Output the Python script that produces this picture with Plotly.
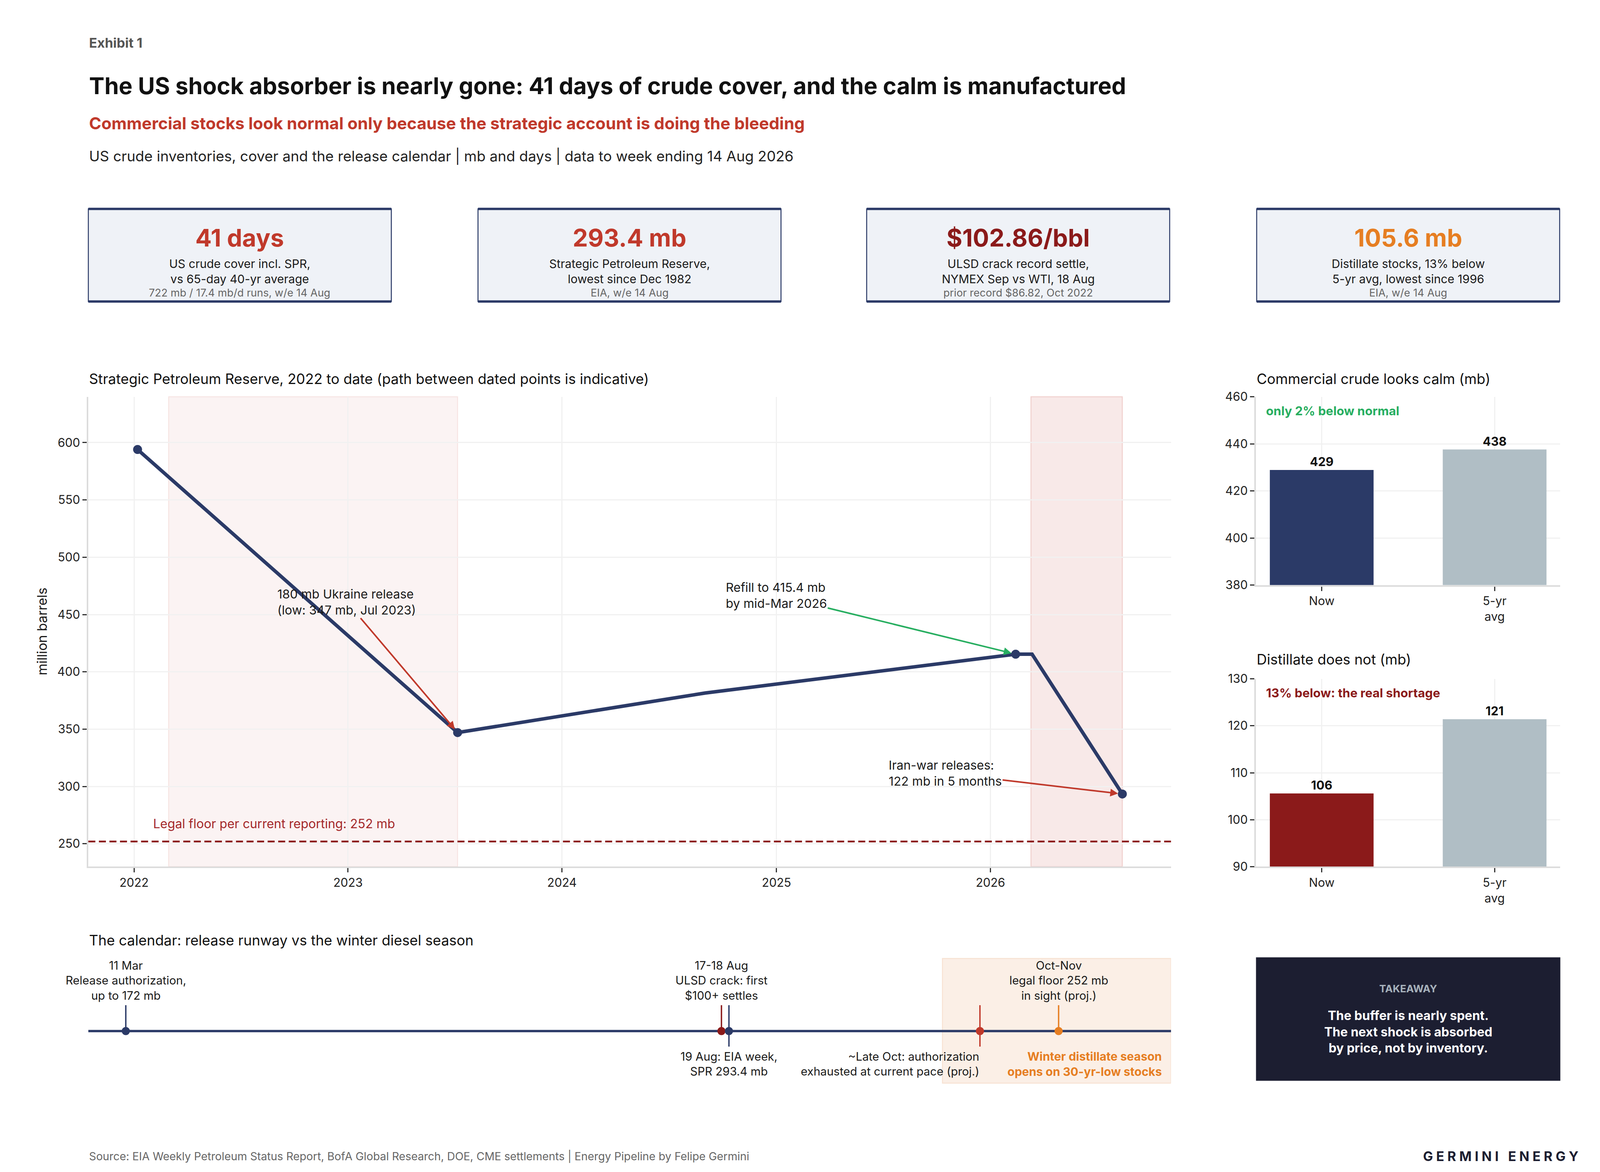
import plotly.graph_objects as go

# ------------------------------------------------------------------ data
spr_dates = ["2022-01-07", "2023-07-07", "2024-09-01", "2026-02-13", "2026-03-13", "2026-08-14"]
spr_values = [594.0, 347.0, 381.5, 415.4, 415.4, 293.4]
spr_marker_dates = ["2022-01-07", "2023-07-07", "2026-02-13", "2026-08-14"]
spr_marker_values = [594.0, 347.0, 415.4, 293.4]
legal_floor = 252
release_windows = [("2022-03-01", "2023-07-07"), ("2026-03-11", "2026-08-14")]
spr_year_ticks = ["2022", "2023", "2024", "2025", "2026"]

bar_categories = ["Now", "5-yr<br>avg"]
commercial_values = [428.9, 437.6]
distillate_values = [105.6, 121.4]

card_values = ["41 days", "293.4 mb", "$102.86/bbl", "105.6 mb"]
card_labels = ["US crude cover incl. SPR,<br>vs 65-day 40-yr average",
               "Strategic Petroleum Reserve,<br>lowest since Dec 1982",
               "ULSD crack record settle,<br>NYMEX Sep vs WTI, 18 Aug",
               "Distillate stocks, 13% below<br>5-yr avg, lowest since 1996"]
card_notes = ["722 mb / 17.4 mb/d runs, w/e 14 Aug", "EIA, w/e 14 Aug",
              "prior record $86.82, Oct 2022", "EIA, w/e 14 Aug"]

event_dates = ["2026-03-11", "2026-08-17", "2026-08-19", "2026-10-25", "2026-11-15"]
event_labels = ["11 Mar<br>Release authorization,<br>up to 172 mb",
                "17-18 Aug<br>ULSD crack: first<br>$100+ settles",
                "19 Aug: EIA week,<br>SPR 293.4 mb",
                "~Late Oct: authorization<br>exhausted at current pace (proj.)",
                "Oct-Nov<br>legal floor 252 mb<br>in sight (proj.)"]
event_sides = ["above", "above", "below", "below", "above"]
winter_season = ("2026-10-15", "2026-12-15")
calendar_range = ["2026-03-01", "2026-12-15"]

# ------------------------------------------------------------------ style / geometry
SX = 4096 / 4800          # horizontal scale of the page relative to the reference
OFF = 8                   # body margin
FW, FH = 4080, 2984
FONT = "Inter"
NAVY = "#2B3A67"
RED = "#C0392B"
DARKRED = "#8B1A1A"
ORANGE = "#E67E22"
GREEN = "#27AE60"
GREYBAR = "#B0BEC5"
TXT = "#1A1A1A"
GRID = "#F1F1F1"
AXL = "#DCDCDC"
card_value_colors = [RED, RED, DARKRED, ORANGE]
event_colors = [NAVY, DARKRED, NAVY, RED, ORANGE]
event_anchor = ["center", "center", "center", "right", "center"]


def px(d):
    return (d * SX - OFF) / FW


def py(d):
    return 1 - (d - OFF) / FH


LEFT, MAIN_R = 265, 3513
RIGHT_L, RIGHT_R = 3768, 4681

fig = go.Figure()

# SPR line
fig.add_trace(go.Scatter(x=spr_dates, y=spr_values, mode="lines",
                         line=dict(color=NAVY, width=9), xaxis="x", yaxis="y",
                         showlegend=False, hoverinfo="skip"))
fig.add_trace(go.Scatter(x=spr_marker_dates, y=spr_marker_values, mode="markers",
                         marker=dict(color=NAVY, size=23), xaxis="x", yaxis="y",
                         showlegend=False))

# bars
fig.add_trace(go.Bar(x=bar_categories, y=commercial_values, xaxis="x2", yaxis="y2",
                     marker=dict(color=[NAVY, GREYBAR], line=dict(width=0)), width=0.6,
                     texttemplate="<b>%{y:.0f}</b>", textposition="outside",
                     textfont=dict(size=31, color="#111", family=FONT),
                     cliponaxis=False, showlegend=False))
fig.add_trace(go.Bar(x=bar_categories, y=distillate_values, xaxis="x3", yaxis="y3",
                     marker=dict(color=[DARKRED, GREYBAR], line=dict(width=0)), width=0.6,
                     texttemplate="<b>%{y:.0f}</b>", textposition="outside",
                     textfont=dict(size=31, color="#111", family=FONT),
                     cliponaxis=False, showlegend=False))

# calendar stems + markers
for d, side, c in zip(event_dates, event_sides, event_colors):
    fig.add_trace(go.Scatter(x=[d, d], y=[-0.6, 1] if side == "below" else [0, 1],
                             mode="lines", line=dict(color=c, width=3.5),
                             xaxis="x4", yaxis="y4", showlegend=False, hoverinfo="skip"))
fig.add_trace(go.Scatter(x=event_dates, y=[0] * len(event_dates), mode="markers",
                         marker=dict(color=event_colors, size=21),
                         xaxis="x4", yaxis="y4", showlegend=False))

shapes = []
annotations = []

# release windows on SPR chart
for i, (a, b) in enumerate(release_windows):
    shapes.append(dict(type="rect", xref="x", yref="y domain", x0=a, x1=b, y0=0, y1=1,
                       fillcolor="rgba(192,57,43,0.06)" if i == 0 else "rgba(192,57,43,0.11)",
                       line=dict(color="rgba(192,57,43,0.10)" if i == 0 else "rgba(192,57,43,0.18)", width=2.5),
                       layer="below"))
# legal floor
shapes.append(dict(type="line", xref="x domain", yref="y", x0=0, x1=1, y0=legal_floor, y1=legal_floor,
                   line=dict(color=DARKRED, width=4.5, dash="18px,9px")))
annotations.append(dict(xref="x", yref="y", x="2022-02-01", y=legal_floor + 8, xanchor="left",
                        yanchor="bottom", showarrow=False,
                        text="Legal floor per current reporting: 252 mb",
                        font=dict(size=32, color="#A4282A", family=FONT)))

# SPR annotations with arrows
arrow_notes = [
    ("180 mb Ukraine release<br>(low: 347 mb, Jul 2023)", "2022-12-30", 461,
     spr_marker_dates[1], spr_marker_values[1], RED),
    ("Refill to 415.4 mb<br>by mid-Mar 2026", "2025-01-01", 466.7,
     spr_marker_dates[2], spr_marker_values[2], GREEN),
    ("Iran-war releases:<br>122 mb in 5 months", "2025-10-16", 311.5,
     spr_marker_dates[3], spr_marker_values[3], RED),
]
for t, tx, ty, hx, hy, c in arrow_notes:
    annotations.append(dict(xref="x", yref="y", axref="x", ayref="y", x=hx, y=hy, ax=tx, ay=ty,
                            text=t, align="left", showarrow=True, arrowhead=2, arrowsize=1,
                            arrowwidth=4, arrowcolor=c, standoff=11,
                            font=dict(size=31.5, color=TXT, family=FONT)))

# calendar band + baseline
shapes.append(dict(type="rect", xref="x4", yref="y4 domain", x0=winter_season[0], x1=winter_season[1],
                   y0=0, y1=1, fillcolor="#FBEFE6", line=dict(color="#F8E2D2", width=2.5), layer="below"))
shapes.append(dict(type="line", xref="x4 domain", yref="y4", x0=0, x1=1, y0=0, y1=0,
                   line=dict(color=NAVY, width=6), layer="below"))
for d, lab, side, anc in zip(event_dates, event_labels, event_sides, event_anchor):
    annotations.append(dict(xref="x4", yref="y4", x=d, y=1.08 if side == "above" else -0.68,
                            xanchor=anc, yanchor="bottom" if side == "above" else "top",
                            align="right" if anc == "right" else "center", showarrow=False,
                            text=lab, font=dict(size=29.5, color=TXT, family=FONT)))
annotations.append(dict(xref="x4 domain", yref="y4 domain", x=0.992, y=0.03, xanchor="right",
                        yanchor="bottom", align="right", showarrow=False,
                        text="<b>Winter distillate season<br>opens on 30-yr-low stocks</b>",
                        font=dict(size=30, color=ORANGE, family=FONT)))

# cards
card_x0 = [265, 1434, 2600, 3770]
card_w = 909
cy0, cy1 = 522, 762
for i in range(4):
    x0, x1 = card_x0[i], card_x0[i] + card_w
    shapes.append(dict(type="rect", xref="paper", yref="paper", x0=px(x0), x1=px(x1),
                       y0=py(cy1), y1=py(cy0), fillcolor="#EFF2F7", line=dict(color=NAVY, width=2.5)))
    for yy in (cy0, cy1):
        shapes.append(dict(type="line", xref="paper", yref="paper", x0=px(x0), x1=px(x1),
                           y0=py(yy), y1=py(yy), line=dict(color=NAVY, width=6)))
    cx = px((x0 + x1) / 2)
    annotations.append(dict(xref="paper", yref="paper", x=cx, y=py(597), showarrow=False,
                            text="<b>" + card_values[i] + "</b>", xanchor="center", yanchor="middle",
                            font=dict(size=62, color=card_value_colors[i], family=FONT)))
    annotations.append(dict(xref="paper", yref="paper", x=cx, y=py(684), showarrow=False,
                            text=card_labels[i], xanchor="center", yanchor="middle",
                            font=dict(size=30, color=TXT, family=FONT)))
    annotations.append(dict(xref="paper", yref="paper", x=cx, y=py(740), showarrow=False,
                            text=card_notes[i], xanchor="center", yanchor="middle",
                            font=dict(size=27, color="#666", family=FONT)))

# takeaway box
shapes.append(dict(type="rect", xref="paper", yref="paper", x0=px(RIGHT_L), x1=px(RIGHT_R),
                   y0=py(2782), y1=py(2462), fillcolor="#1C1E31", line=dict(width=0)))
annotations.append(dict(xref="paper", yref="paper", x=px((RIGHT_L + RIGHT_R) / 2), y=py(2543),
                        xanchor="center", yanchor="middle",
                        showarrow=False, text="<b>TAKEAWAY</b>",
                        font=dict(size=26, color="#A7B2BC", family=FONT)))
annotations.append(dict(xref="paper", yref="paper", x=px((RIGHT_L + RIGHT_R) / 2), y=py(2655),
                        xanchor="center", yanchor="middle",
                        showarrow=False, align="center",
                        text="<b>The buffer is nearly spent.<br>The next shock is absorbed<br>by price, not by inventory.</b>",
                        font=dict(size=32, color="#FFFFFF", family=FONT)))


def txt(x, y, s, size, color, anchor="left"):
    annotations.append(dict(xref="paper", yref="paper", x=px(x), y=py(y), text=s, showarrow=False,
                            xanchor=anchor, yanchor="middle", font=dict(size=size, color=color, family=FONT)))


txt(LEFT, 92, "<b>Exhibit 1</b>", 34, "#555")
txt(LEFT, 203, "<b>The US shock absorber is nearly gone: 41 days of crude cover, and the calm is manufactured</b>", 59, "#111")
txt(LEFT, 300, "<b>Commercial stocks look normal only because the strategic account is doing the bleeding</b>", 42.5, RED)
txt(LEFT, 385, "US crude inventories, cover and the release calendar | mb and days | data to week ending 14 Aug 2026", 37, "#222")
txt(LEFT, 963, "Strategic Petroleum Reserve, 2022 to date (path between dated points is indicative)", 36.3, "#111")
txt(RIGHT_L, 963, "Commercial crude looks calm (mb)", 36.3, "#111")
txt(RIGHT_L, 1690, "Distillate does not (mb)", 36.3, "#111")
txt(LEFT, 2418, "The calendar: release runway vs the winter diesel season", 36.3, "#111")
txt(LEFT, 2978, "Source: EIA Weekly Petroleum Status Report, BofA Global Research, DOE, CME settlements | Energy Pipeline by Felipe Germini", 28.3, "#666")
txt(4738, 2977, "<b>G E R M I N I   E N E R G Y</b>", 34, "#1C1E31", anchor="right")

annotations.append(dict(xref="paper", yref="paper", x=px(126), y=py(1617), text="million barrels",
                        xanchor="center", yanchor="middle",
                        textangle=-90, showarrow=False, font=dict(size=34, color=TXT, family=FONT)))
annotations.append(dict(xref="x2 domain", yref="y2 domain", x=0.03, y=0.925, xanchor="left",
                        yanchor="middle", showarrow=False, text="<b>only 2% below normal</b>",
                        font=dict(size=31.5, color=GREEN, family=FONT)))
annotations.append(dict(xref="x3 domain", yref="y3 domain", x=0.03, y=0.925, xanchor="left",
                        yanchor="middle", showarrow=False, text="<b>13% below: the real shortage</b>",
                        font=dict(size=31.5, color=DARKRED, family=FONT)))

axis_common = dict(showgrid=True, gridcolor=GRID, gridwidth=2.5, showline=True, linecolor=AXL,
                   linewidth=4, ticks="outside", tickcolor="#333", ticklen=11, tickwidth=2.5,
                   zeroline=False, tickfont=dict(size=30.5, color="#222", family=FONT))

fig.update_layout(
    width=FW, height=FH, autosize=False, margin=dict(l=0, r=0, t=0, b=0),
    paper_bgcolor="white", plot_bgcolor="white", showlegend=False,
    font=dict(family=FONT, color=TXT),
    shapes=shapes, annotations=annotations,
    xaxis=dict(domain=[px(LEFT), px(MAIN_R)], anchor="y", type="date",
               range=["2021-10-15", "2026-11-05"], tickvals=[y + "-01-01" for y in spr_year_ticks],
               ticktext=spr_year_ticks, **axis_common),
    yaxis=dict(domain=[py(2227), py(1009)], anchor="x", range=[230, 640], dtick=50, tick0=0,
               **axis_common),
    xaxis2=dict(domain=[px(RIGHT_L), px(RIGHT_R)], anchor="y2", range=[-0.38, 1.38], **axis_common),
    yaxis2=dict(domain=[py(1497), py(1009)], anchor="x2", range=[380, 460], dtick=20, tick0=0,
                **axis_common),
    xaxis3=dict(domain=[px(RIGHT_L), px(RIGHT_R)], anchor="y3", range=[-0.38, 1.38], **axis_common),
    yaxis3=dict(domain=[py(2227), py(1740)], anchor="x3", range=[90, 130], dtick=10, tick0=0,
                **axis_common),
    xaxis4=dict(domain=[px(LEFT), px(MAIN_R)], anchor="y4", type="date", range=calendar_range,
                visible=False),
    yaxis4=dict(domain=[py(2788), py(2465)], anchor="x4", range=[-2.01, 2.8], visible=False),
)

fig.write_html("out.html")
